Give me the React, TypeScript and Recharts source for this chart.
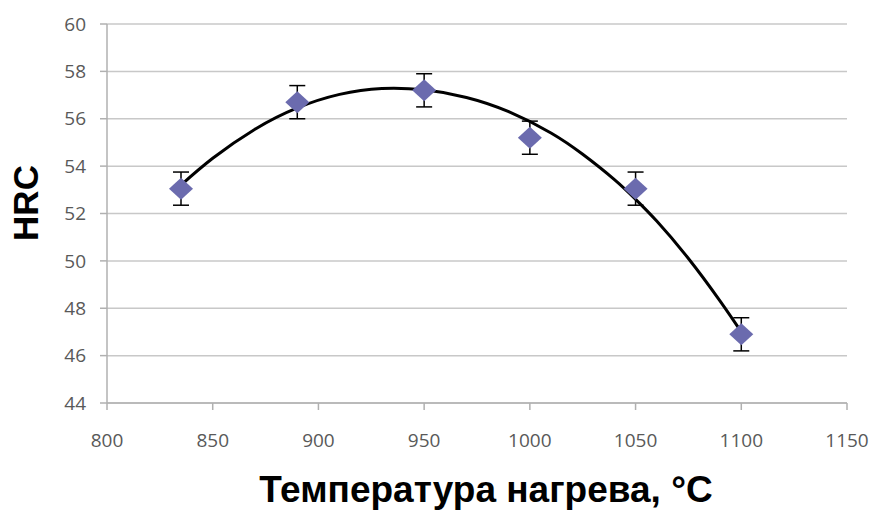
import { ComposedChart, Scatter, Line, XAxis, YAxis, CartesianGrid, ErrorBar } from 'recharts'

// measured points
const temps = [835, 890, 950, 1000, 1050, 1100]
const hrc = [53.05, 56.7, 57.2, 55.2, 53.05, 46.9]
const hrcErr = [0.7, 0.7, 0.7, 0.7, 0.7, 0.7]

// trend curve
const fitTemps = [835, 850, 870, 890, 910, 930, 950, 970, 990, 1010, 1025, 1040, 1050, 1060, 1075, 1090, 1100]
const fitHrc = [53.2, 54.33, 55.56, 56.46, 57.03, 57.28, 57.22, 56.9, 56.3, 55.4, 54.5, 53.43, 52.6, 51.68, 50.1, 48.3, 47.0]

const xTicks = [800, 850, 900, 950, 1000, 1050, 1100, 1150]
const yTicks = [44, 46, 48, 50, 52, 54, 56, 58, 60]

const points = temps.map((t, i) => ({ x: t, y: hrc[i], err: hrcErr[i] }))
const curve = fitTemps.map((t, i) => ({ x: t, y: fitHrc[i] }))

const tickStyle = { fill: '#595959', fontSize: 19, fontFamily: 'Open Sans' }
const axisColor = '#b0b0b0'

const Diamond = (props: any) => {
  const { cx, cy } = props
  return <path d={`M${cx},${cy - 11} L${cx + 12},${cy} L${cx},${cy + 11} L${cx - 12},${cy} Z`} fill="#6b6bae" />
}

export default function App() {
  return (
    <div style={{ position: 'absolute', left: 0, top: 0, background: '#fff' }}>
      <ComposedChart width={873} height={512} margin={{ top: 24, right: 26, bottom: 0, left: 0 }}>
        <CartesianGrid vertical={false} stroke="#c8c8c8" strokeWidth={1.5} />
        <XAxis
          type="number"
          dataKey="x"
          domain={[800, 1150]}
          ticks={xTicks}
          height={109}
          tickSize={7}
          tickMargin={24}
          stroke={axisColor}
          strokeWidth={1.5}
          tick={tickStyle}
          allowDataOverflow
          label={{
            content: () => (
              <text x={486} y={502} textAnchor="middle" fontSize={37} fontWeight="bold" fontFamily="Liberation Sans" fill="#000">
                Температура нагрева, °C
              </text>
            ),
          }}
        />
        <YAxis
          type="number"
          domain={[44, 60]}
          ticks={yTicks}
          width={107}
          tickSize={7}
          tickMargin={14}
          stroke={axisColor}
          strokeWidth={1.5}
          tick={tickStyle}
          allowDataOverflow
          label={{
            content: () => (
              <text x={38} y={203} transform="rotate(-90 38 203)" textAnchor="middle" fontSize={35} fontWeight="bold" fontFamily="Liberation Sans" fill="#000">
                HRC
              </text>
            ),
          }}
        />
        <Scatter data={points} dataKey="y" shape={Diamond} isAnimationActive={false}>
          <ErrorBar dataKey="err" direction="y" width={8} stroke="#000" strokeWidth={1.5} isAnimationActive={false} />
        </Scatter>
        <Line data={curve} dataKey="y" type="natural" stroke="#000" strokeWidth={3} dot={false} activeDot={false} isAnimationActive={false} />
      </ComposedChart>
    </div>
  )
}
